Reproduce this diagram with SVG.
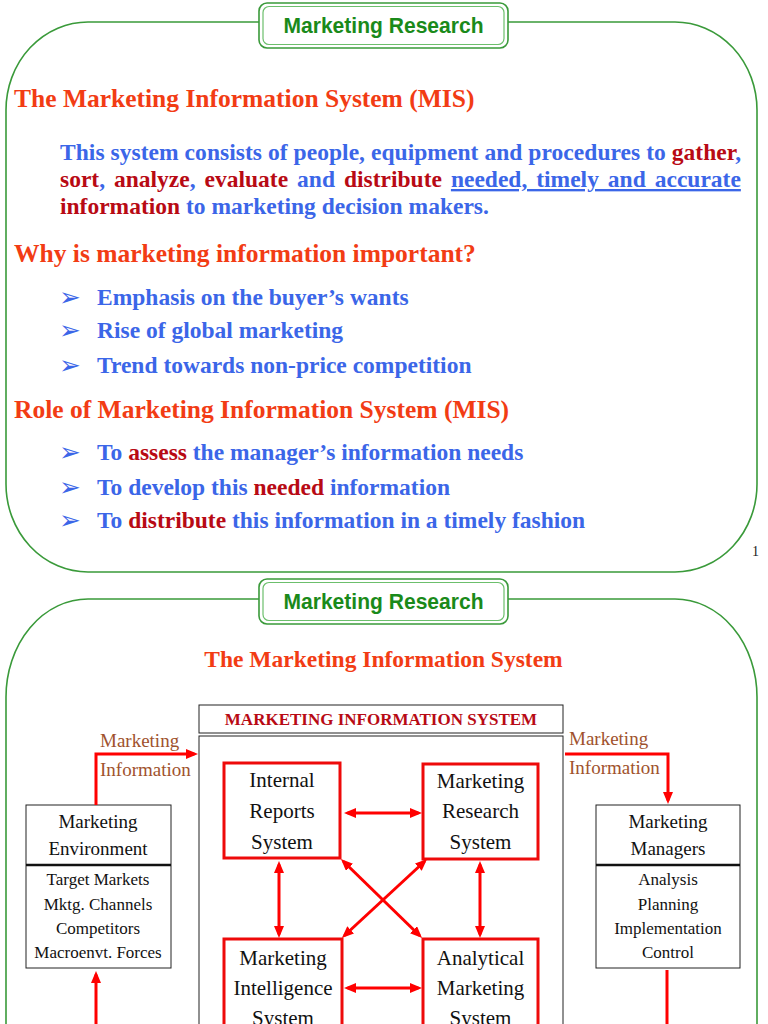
<svg xmlns="http://www.w3.org/2000/svg" width="768" height="1024" viewBox="0 0 768 1024">
<style>
.frame{fill:none;stroke:#3a9a3a;stroke-width:1.6}
.pillo{fill:#fff;stroke:#3a9a3a;stroke-width:1.6}
.pilli{fill:none;stroke:#6cbf6c;stroke-width:1.2}
.pillt{font-family:"Liberation Sans",Arial,sans-serif;font-weight:bold;font-size:21.5px;fill:#1a8a1a;text-anchor:middle}
.h{font-family:"Liberation Serif","Times New Roman",serif;font-weight:bold;font-size:25.5px;fill:#f23c14}
.p{font-family:"Liberation Serif","Times New Roman",serif;font-weight:bold;font-size:23.5px;fill:#3b66e8}
.r{fill:#b80a14}
.bul{font-family:"DejaVu Sans",sans-serif;font-size:26px;fill:#3b66e8}
.num{font-family:"Liberation Serif","Times New Roman",serif;font-size:14px;fill:#222}
.box{fill:#fff;stroke:#222;stroke-width:1}
.rbox{fill:#fff;stroke:#ee0a0a;stroke-width:3}
.t21{font-family:"Liberation Serif","Times New Roman",serif;font-size:21px;fill:#111;text-anchor:middle}
.t19{font-family:"Liberation Serif","Times New Roman",serif;font-size:19px;fill:#111;text-anchor:middle}
.t17{font-family:"Liberation Serif","Times New Roman",serif;font-size:17px;fill:#111;text-anchor:middle}
.lbl{font-family:"Liberation Serif","Times New Roman",serif;font-size:19px;fill:#a0522d}
.mis{font-family:"Liberation Serif","Times New Roman",serif;font-weight:bold;font-size:17px;fill:#b80a14;text-anchor:middle}
.con{fill:none;stroke:#ff0000;stroke-width:3}
</style>
<defs>
<marker id="ah" viewBox="0 0 12 10" markerWidth="12" markerHeight="10" refX="8.4" refY="5" orient="auto-start-reverse" markerUnits="userSpaceOnUse">
<path d="M0,0 L12,5 L0,10 z" fill="#ff0000"/>
</marker>
</defs>
<rect width="768" height="1024" fill="#fff"/>

<!-- Slide 1 -->
<g id="slide1">
<rect class="frame" x="6" y="22" width="751" height="550" rx="82" ry="88"/>
<g id="pill1">
<rect class="pillo" x="259" y="3" width="249" height="45" rx="8"/>
<rect class="pilli" x="263" y="6.5" width="241" height="38" rx="6"/>
<text class="pillt" x="383.5" y="33" textLength="200" lengthAdjust="spacingAndGlyphs">Marketing Research</text>
</g>
<text class="h" x="14" y="107">The Marketing Information System (MIS)</text>
<text class="p" x="60" y="160" textLength="681">This system consists of people, equipment and procedures to <tspan class="r">gather</tspan>,</text>
<text class="p" x="60" y="187" word-spacing="3.1"><tspan class="r">sort</tspan>, <tspan class="r">analyze</tspan>, <tspan class="r">evaluate</tspan> and <tspan class="r">distribute</tspan> <tspan text-decoration="underline">needed, timely and accurate</tspan></text>
<text class="p" x="60" y="214"><tspan class="r">information</tspan> to marketing decision makers.</text>
<text class="h" x="14" y="262">Why is marketing information important?</text>
<text class="bul" x="59" y="306">➢</text>
<text class="p" x="97" y="305">Emphasis on the buyer’s wants</text>
<text class="bul" x="59" y="339">➢</text>
<text class="p" x="97" y="338">Rise of global marketing</text>
<text class="bul" x="59" y="374">➢</text>
<text class="p" x="97" y="373">Trend towards non-price competition</text>
<text class="h" x="14" y="418">Role of Marketing Information System (MIS)</text>
<text class="bul" x="59" y="461">➢</text>
<text class="p" x="97" y="460">To <tspan class="r">assess</tspan> the manager’s information needs</text>
<text class="bul" x="59" y="496">➢</text>
<text class="p" x="97" y="495">To develop this <tspan class="r">needed</tspan> information</text>
<text class="bul" x="59" y="529">➢</text>
<text class="p" x="97" y="528">To <tspan class="r">distribute</tspan> this information in a timely fashion</text>
<text class="num" x="752" y="556">1</text>
</g>

<!-- Slide 2 -->
<g id="slide2">
<rect class="frame" x="6" y="599" width="751" height="620" rx="82" ry="98"/>
<g id="pill2">
<rect class="pillo" x="259" y="579" width="249" height="45" rx="8"/>
<rect class="pilli" x="263" y="582.5" width="241" height="38" rx="6"/>
<text class="pillt" x="383.5" y="609" textLength="200" lengthAdjust="spacingAndGlyphs">Marketing Research</text>
</g>
<text class="h" x="383.5" y="667" text-anchor="middle" style="font-size:23.5px">The Marketing Information System</text>
</g>

<g id="mis-header">
<rect class="box" x="199" y="705" width="364" height="28"/>
<text class="mis" x="381" y="725">MARKETING INFORMATION SYSTEM</text>
</g>
<g id="mis-body">
<rect class="box" x="199" y="736" width="364" height="300"/>
</g>

<g id="internal-reports">
<rect class="rbox" x="224" y="763" width="116" height="95"/>
<text class="t21" x="282" y="787">Internal</text>
<text class="t21" x="282" y="818">Reports</text>
<text class="t21" x="282" y="849">System</text>
</g>
<g id="marketing-research">
<rect class="rbox" x="423" y="764" width="115" height="95"/>
<text class="t21" x="480.5" y="788">Marketing</text>
<text class="t21" x="480.5" y="818">Research</text>
<text class="t21" x="480.5" y="849">System</text>
</g>
<g id="marketing-intelligence">
<rect class="rbox" x="224" y="939" width="118" height="120"/>
<text class="t21" x="283" y="965">Marketing</text>
<text class="t21" x="283" y="995">Intelligence</text>
<text class="t21" x="283" y="1025">System</text>
</g>
<g id="analytical-marketing">
<rect class="rbox" x="423" y="939" width="115" height="120"/>
<text class="t21" x="480.5" y="965">Analytical</text>
<text class="t21" x="480.5" y="995">Marketing</text>
<text class="t21" x="480.5" y="1025">System</text>
</g>

<g id="marketing-environment">
<rect class="box" x="26" y="805" width="145" height="163"/>
<line x1="26" y1="865" x2="171" y2="865" stroke="#111" stroke-width="2.5"/>
<text class="t19" x="98" y="828">Marketing</text>
<text class="t19" x="98" y="855">Environment</text>
<text class="t17" x="98" y="885">Target Markets</text>
<text class="t17" x="98" y="910">Mktg. Channels</text>
<text class="t17" x="98" y="934">Competitors</text>
<text class="t17" x="98" y="958">Macroenvt. Forces</text>
</g>
<g id="marketing-managers">
<rect class="box" x="596" y="805" width="144" height="163"/>
<line x1="596" y1="865" x2="740" y2="865" stroke="#111" stroke-width="2.5"/>
<text class="t19" x="668" y="828">Marketing</text>
<text class="t19" x="668" y="855">Managers</text>
<text class="t17" x="668" y="885">Analysis</text>
<text class="t17" x="668" y="910">Planning</text>
<text class="t17" x="668" y="934">Implementation</text>
<text class="t17" x="668" y="958">Control</text>
</g>

<g id="connectors">
<path class="con" d="M96,805 V754 H194.4" marker-end="url(#ah)"/>
<path class="con" d="M565,754 H668 V800.4" marker-end="url(#ah)"/>
<path class="con" d="M96,1024 V974.6" marker-end="url(#ah)"/>
<path class="con" d="M667,970 V1024"/>
<line class="con" x1="347.6" y1="813" x2="418.4" y2="813" marker-start="url(#ah)" marker-end="url(#ah)"/>
<line class="con" x1="347.6" y1="988" x2="418.4" y2="988" marker-start="url(#ah)" marker-end="url(#ah)"/>
<line class="con" x1="279" y1="864.6" x2="279" y2="934.4" marker-start="url(#ah)" marker-end="url(#ah)"/>
<line class="con" x1="480" y1="864.6" x2="480" y2="934.4" marker-start="url(#ah)" marker-end="url(#ah)"/>
<line class="con" x1="343.5" y1="861.5" x2="419.5" y2="935.5" marker-start="url(#ah)" marker-end="url(#ah)"/>
<line class="con" x1="424.5" y1="861.5" x2="344.5" y2="935.5" marker-start="url(#ah)" marker-end="url(#ah)"/>
</g>

<g id="labels">
<text class="lbl" x="100" y="747">Marketing</text>
<text class="lbl" x="100" y="776">Information</text>
<text class="lbl" x="569" y="745">Marketing</text>
<text class="lbl" x="569" y="774">Information</text>
</g>
</svg>
